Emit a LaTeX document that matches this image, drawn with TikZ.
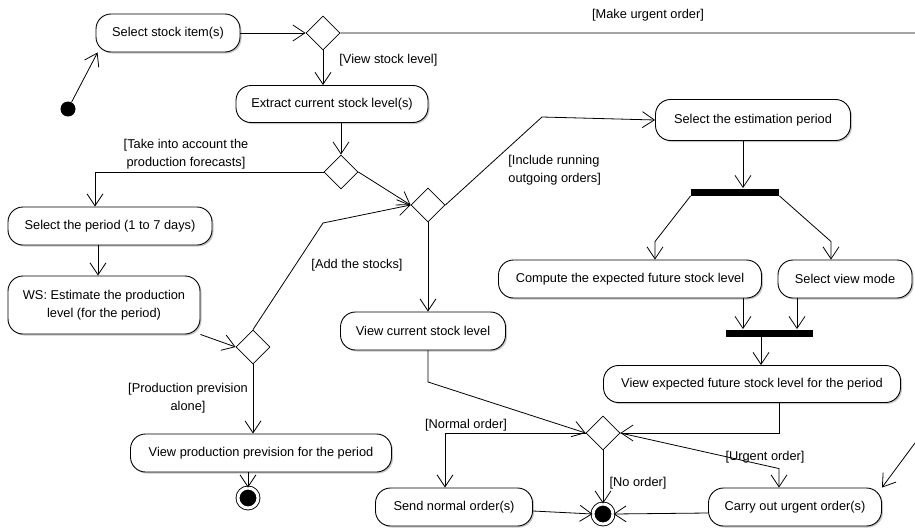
\documentclass[tikz,border=0pt]{standalone}
\usepackage{fontspec}
\setmainfont{Liberation Sans}
\usetikzlibrary{arrows.meta,shapes.geometric,shadows}

\begin{document}
\begin{tikzpicture}[x=1pt, y=-1pt, line width=0.8pt,
    every node/.style={font=\fontsize{12.8}{17.5}\selectfont},
    action/.style={draw, line width=0.9pt, rounded corners=15pt, minimum height=38pt, fill=white, align=center,
                   drop shadow={shadow xshift=1.5pt, shadow yshift=-1.5pt, opacity=0.45}},
    choice/.style={draw, diamond, minimum width=34pt, minimum height=34pt, inner sep=0pt, fill=white},
    bar/.style={fill=black, minimum width=88pt, minimum height=7pt, inner sep=0pt},
    start/.style={circle, fill=black, minimum size=15pt, inner sep=0pt},
    stop/.style={circle, draw=black, fill=black, line width=0.9pt, double=white, double distance=3pt,
                 minimum size=20pt, inner sep=0pt},
    flow/.style={-{Straight Barb[length=12pt, width=16pt]}},
    guard/.style={inner sep=1pt, align=center}]
            % Frame to ensure alignment:
            \useasboundingbox                                                 (0, 0) rectangle (915, 530);
            \clip                                                             (0, 0) rectangle (915, 530);
            % Activities
            \node[start]                                         (init)     at ( 68, 109) {};
            \node[action, minimum width=144pt]                   (selitem)  at (168,  33) {Select stock item(s)};
            \node[action, minimum width=192pt, minimum height=37pt] (extract) at (332, 104) {Extract current stock level(s)};
            \node[action, minimum width=204pt]                   (period)   at (110, 226) {Select the period (1 to 7 days)};
            \node[action, minimum width=192pt, minimum height=58pt] (estim) at (104, 305) {WS: Estimate the production\\level (for the period)};
            \node[action, minimum width=261pt]                   (prodview) at (261, 453) {View production prevision for the period};
            \node[action, minimum width=165pt]                   (curview)  at (423, 331) {View current stock level};
            \node[action, minimum width=195pt, minimum height=41pt] (estper) at (753, 120) {Select the estimation period};
            \node[action, minimum width=263pt]                   (compute)  at (630, 279) {Compute the expected future stock level};
            \node[action, minimum width=134pt]                   (viewmode) at (845, 279) {Select view mode};
            \node[action, minimum width=297pt, minimum height=37pt] (futview) at (752, 384) {View expected future stock level for the period};
            \node[action, minimum width=157pt]                   (normal)   at (454, 507) {Send normal order(s)};
            \node[action, minimum width=173pt]                   (urgent)   at (795, 507) {Carry out urgent order(s)};
            % Decisions, fork & join, ends
            \node[choice]                                        (d1)       at (323,  33) {};
            \node[choice]                                        (d2)       at (341, 172) {};
            \node[choice]                                        (d3)       at (428, 205) {};
            \node[choice]                                        (d4)       at (253, 347) {};
            \node[choice]                                        (d5)       at (603, 433) {};
            \node[bar]                                           (fork)     at (735, 192) {};
            \node[bar, minimum width=87pt]                       (join)     at (769, 333) {};
            \node[stop]                                          (end1)     at (248, 498) {};
            \node[stop]                                          (end2)     at (603, 514) {};
            % Bends and way out on the right
            \coordinate                                          (offright) at (935,  33);
            \coordinate                                          (offdown)  at (935, 416);
            \coordinate                                          (addbend)  at (323, 223);
            \coordinate                                          (curbend)  at (428, 382);
            \coordinate                                          (inclbend) at (542, 117);
            % Top row
            \draw[flow] (init) -- ([xshift=2pt]selitem.south west);
            \draw[flow] (selitem.east) -- (d1.west);
            \draw[flow] (d1.east) -- (offright) -- (offdown) -- (urgent.north east);
            \draw[flow] (d1.south) -- (d1.south |- extract.north);
            \draw[flow] (extract.south -| d2.north) -- (d2.north);
            % Production forecasts branch
            \draw[flow] (d2.west) -| ([xshift=-15pt]period.north);
            \draw[flow] (d2.east) -- (d3.west);
            \draw[flow] ([xshift=-12pt]period.south) -- ([xshift=-12pt]period.south |- estim.north);
            \draw[flow] (estim.south east) -- (d4.west);
            \draw[flow] (d4.north) -- (addbend) -- (d3.west);
            \draw[flow] (d4.south) -- (d4.south |- prodview.north);
            \draw[flow] (prodview.south -| end1.north) -- (end1.north);
            % Current stock branch
            \draw[flow] (d3.south) -- (d3.south |- curview.north);
            \draw[flow] (curview.south -| d3.south) -- (curbend) -- (d5.west);
            % Estimation branch
            \draw[flow] (d3.east) -- (inclbend) -- (estper.west);
            \draw[flow] ([xshift=-10pt]estper.south) -- ([xshift=-10pt]estper.south |- fork.north);
            \draw[flow] (fork.south west) -- ([xshift=25pt, yshift=18pt]compute.north) -- ([xshift=25pt]compute.north);
            \draw[flow] (fork.south east) -- ([xshift=-14pt, yshift=18pt]viewmode.north) -- ([xshift=-14pt]viewmode.north);
            \draw[flow] ([xshift=113pt]compute.south) -- ([xshift=113pt]compute.south |- join.north);
            \draw[flow] ([xshift=-48pt]viewmode.south) -- ([xshift=-48pt]viewmode.south |- join.north);
            \draw[flow] ([xshift=-8pt]join.south) -- ([xshift=-8pt]join.south |- futview.north);
            \draw[flow] ([xshift=27pt]futview.south) |- (d5.east);
            % Orders
            \draw[flow] (d5.west) -| ([xshift=-9pt]normal.north);
            \draw[flow] (d5.south) -- (end2.north);
            \draw[flow] (d5.east) -- ([xshift=-16pt, yshift=19pt]urgent.north) -- ([xshift=-16pt]urgent.north);
            \draw[flow] ([yshift=-4pt]normal.east) -- (end2.west);
            \draw[flow] ([yshift=-6pt]urgent.west) -- (end2.east);
            % Guards
            \node[guard]                                         (gmake)    at (648,  15) {[Make urgent order]};
            \node[guard, anchor=west]                            (gview)    at (338,  60) {[View stock level]};
            \node[guard]                                         (gtake)    at (186, 154) {[Take into account the\\production forecasts]};
            \node[guard, anchor=west, align=left]                (gincl)    at (507, 170) {[Include running\\outgoing orders]};
            \node[guard]                                         (gadd)     at (357, 265) {[Add the stocks]};
            \node[guard]                                         (gprod)    at (188, 398) {[Production prevision\\alone]};
            \node[guard]                                         (gnormal)  at (466, 425) {[Normal order]};
            \node[guard]                                         (gno)      at (638, 483) {[No order]};
            \node[guard]                                         (gurgent)  at (765, 457) {[Urgent order]};
        \end{tikzpicture}
\end{document}
